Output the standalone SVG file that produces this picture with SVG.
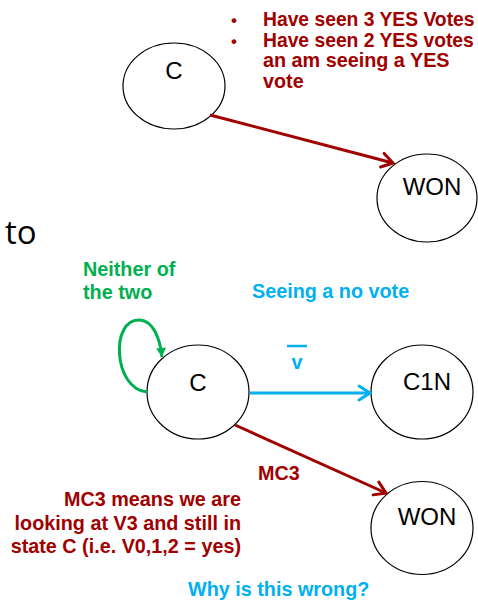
<svg xmlns="http://www.w3.org/2000/svg" width="478" height="601" viewBox="0 0 478 601">
  <style>
    .state { fill: #ffffff; stroke: #000000; stroke-width: 1.2; }
    .stateLabel { font-family: "Liberation Sans", Arial, sans-serif; font-size: 24px; fill: #000000; text-anchor: middle; }
    .note { font-family: "Liberation Sans", Arial, sans-serif; font-size: 19.8px; font-weight: bold; }
    .red { fill: #a00000; }
    .blue { fill: #00b0f0; }
    .green { fill: #00b050; }
    .edge { fill: none; stroke-width: 3; }
  </style>
  <defs>
    <marker id="arrowRed" viewBox="-14 -9 16 18" markerWidth="16" markerHeight="18" refX="0" refY="0" orient="auto" markerUnits="userSpaceOnUse">
      <path d="M-11,-7 L0,0 L-11,7" fill="none" stroke="#a00000" stroke-width="3" stroke-linecap="round" stroke-linejoin="miter"/>
    </marker>
    <marker id="arrowBlue" viewBox="-14 -9 16 18" markerWidth="16" markerHeight="18" refX="0" refY="0" orient="auto" markerUnits="userSpaceOnUse">
      <path d="M-11,-7 L0,0 L-11,7" fill="none" stroke="#00b0f0" stroke-width="3" stroke-linecap="round" stroke-linejoin="miter"/>
    </marker>
    <marker id="arrowGreen" viewBox="-10 -6 11 12" markerWidth="11" markerHeight="12" refX="0" refY="0" orient="auto" markerUnits="userSpaceOnUse">
      <path d="M-9,-5 L0,0 L-9,5 Z" fill="#00b050"/>
    </marker>
  </defs>

  <!-- first machine: C goes straight to WON -->
  <g id="node-c-top">
    <ellipse class="state" cx="174" cy="86" rx="51" ry="43"/>
    <text class="stateLabel" x="174" y="79">C</text>
  </g>
  <g id="node-won-top">
    <ellipse class="state" cx="427" cy="198" rx="50" ry="44"/>
    <text class="stateLabel" x="432" y="195">WON</text>
  </g>

  <g id="note-top" class="note red" font-size="19.3">
    <text x="231" y="26" font-size="17">•</text>
    <text x="263" y="26" style="font-size:19.3px">Have seen 3 YES Votes</text>
    <text x="231" y="46.5" font-size="17">•</text>
    <text x="263" y="46.5" style="font-size:19.3px">Have seen 2 YES votes</text>
    <text x="263" y="67">an am seeing a YES</text>
    <text x="263" y="87.5">vote</text>
  </g>

  <text id="to" x="5" y="244" font-family="'Open Sans', 'Noto Sans', sans-serif" font-size="33" fill="#000000">to</text>

  <!-- second machine -->
  <g id="node-c">
    <ellipse class="state" cx="198" cy="392" rx="51" ry="47"/>
    <text class="stateLabel" x="198" y="391">C</text>
  </g>
  <g id="node-c1n">
    <ellipse class="state" cx="422" cy="392" rx="51" ry="47"/>
    <text class="stateLabel" x="427" y="390">C1N</text>
  </g>
  <g id="node-won">
    <ellipse class="state" cx="422" cy="528" rx="51" ry="46.5"/>
    <text class="stateLabel" x="427" y="525">WON</text>
  </g>

  <g id="connectors">
    <line class="edge" stroke="#a00000" x1="210" y1="115" x2="393" y2="163" marker-end="url(#arrowRed)"/>
    <path class="edge" stroke="#00b050" d="M147,392 C113,389 110,318 140,320 C153,321 160,338 162,357" marker-end="url(#arrowGreen)"/>
    <line class="edge" stroke="#00b0f0" x1="250" y1="393" x2="370" y2="393" marker-end="url(#arrowBlue)"/>
    <line class="edge" stroke="#a00000" x1="235" y1="425" x2="386" y2="493" marker-end="url(#arrowRed)"/>
  </g>

  <g id="labels">
    <text class="note green" x="83" y="276">Neither of</text>
    <text class="note green" x="83" y="299">the two</text>
    <text class="note blue" x="252" y="298">Seeing a no vote</text>
    <line x1="287" y1="346" x2="307" y2="346" stroke="#00b0f0" stroke-width="2.5"/>
    <text class="note blue" x="297" y="369" font-size="23" text-anchor="middle">v</text>
    <text class="note red" x="258" y="480">MC3</text>
    <g class="note red" text-anchor="end">
      <text x="241" y="506">MC3 means we are</text>
      <text x="241" y="530">looking at V3 and still in</text>
      <text x="241" y="553">state C (i.e. V0,1,2 = yes)</text>
    </g>
    <text class="note blue" x="188" y="596">Why is this wrong?</text>
  </g>
</svg>
